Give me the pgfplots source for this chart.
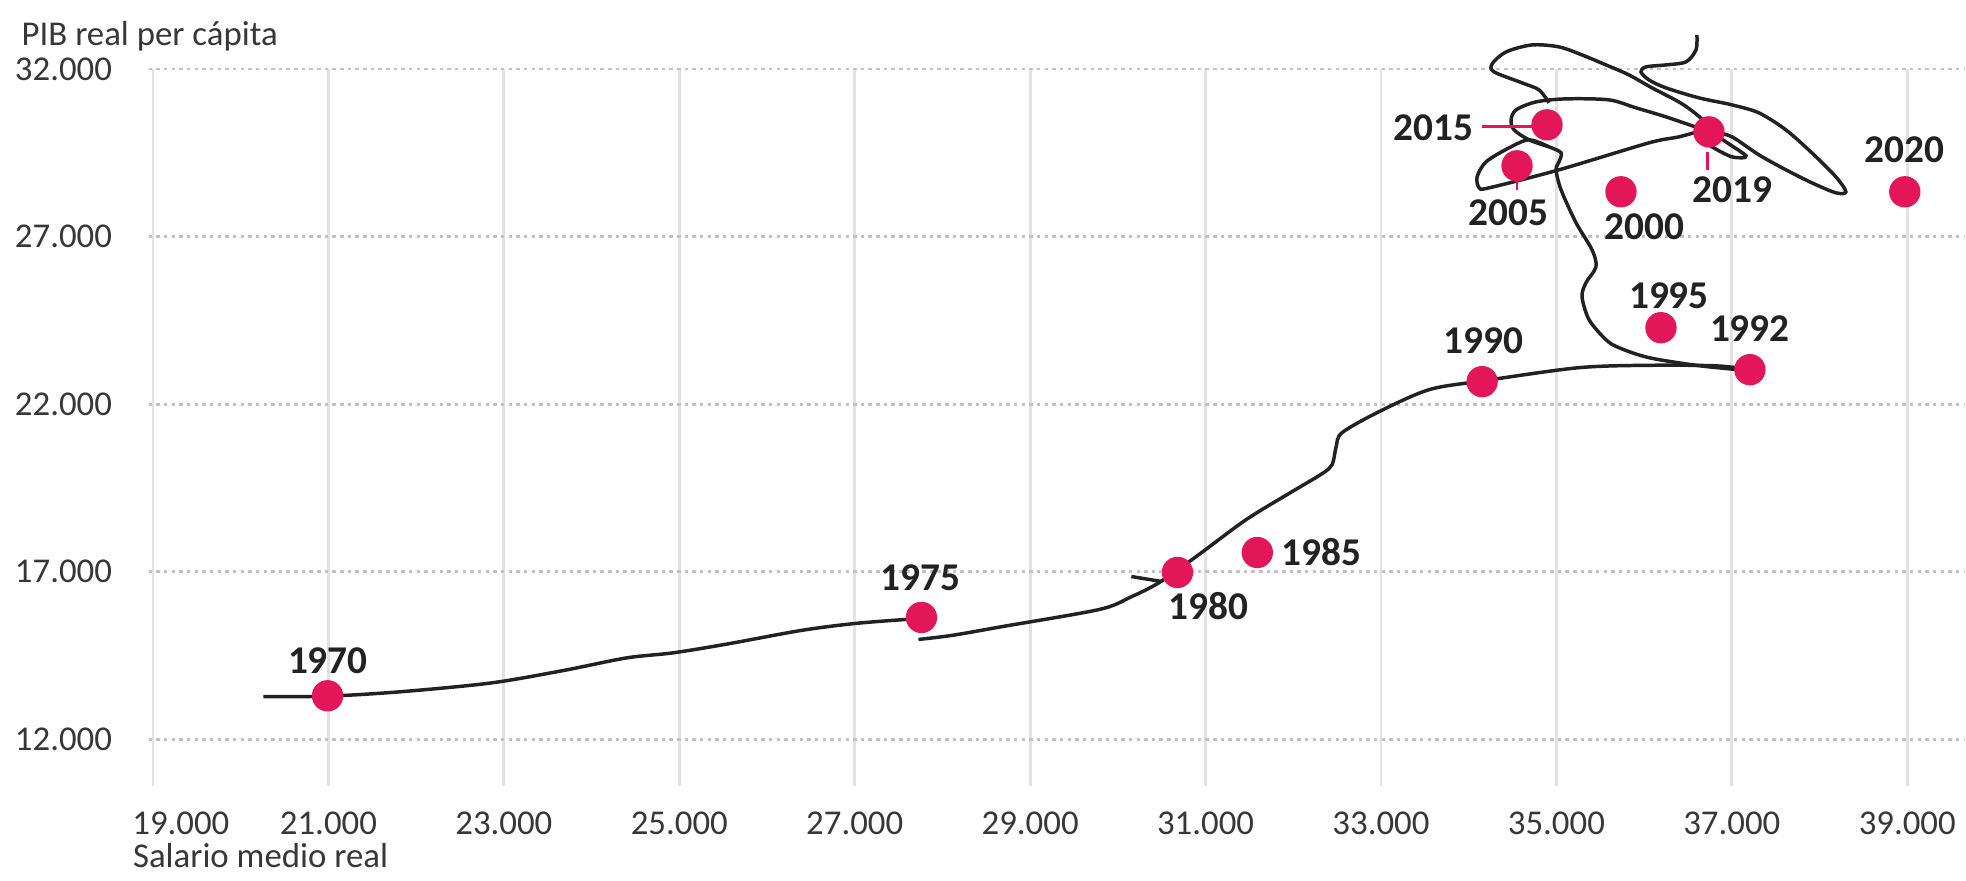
\documentclass[border=0pt]{standalone}
\usepackage{pgfplots}
\pgfplotsset{compat=1.18}
\usepackage{fontspec}
\setmainfont{Carlito}
\definecolor{dot}{RGB}{228,22,90}
\definecolor{ink}{RGB}{34,34,34}
\definecolor{txt}{RGB}{55,55,55}
\definecolor{vgrid}{RGB}{226,226,226}
\definecolor{hgrid}{RGB}{195,195,195}

\begin{document}
\begin{tikzpicture}
\useasboundingbox (-42.7pt,-27.1pt) rectangle (522.1pt,225.9pt);
\begin{axis}[
  at={(0,0)}, anchor=south west,
  scale only axis, width=521.6pt, height=206.1pt,
  xmin=18950, xmax=39650, ymin=10600, ymax=32000,
  scaled ticks=false,
  axis line style={draw=none},
  major tick length=0pt,
  xtick={19000,21000,23000,25000,27000,29000,31000,33000,35000,37000,39000},
  xticklabels={\hspace*{16pt}19.000,21.000,23.000,25.000,27.000,29.000,31.000,33.000,35.000,37.000,39.000},
  ytick={12000,17000,22000,27000,32000},
  yticklabels={12.000,17.000,22.000,27.000,32.000},
  xmajorgrids, ymajorgrids,
  x grid style={vgrid, line width=0.8pt},
  y grid style={hgrid, line width=0.8pt, dash pattern=on 1pt off 1.2pt},
  tick label style={font=\fontsize{10}{12}\selectfont, text=txt},
  xticklabel style={yshift=-3.7pt},
  yticklabel style={xshift=-7pt},
  clip=false,
]

% trazo a mano: 1970 -> 1975
\addplot[ink, line width=1pt, smooth] coordinates {
(20257,13273) (21000,13290) (21829,13422) (22857,13684) (23686,14058)
(24400,14431) (24929,14581) (25543,14843) (26400,15254) (27014,15460)
(27643,15590) (27800,15630)
};
% 1975 -> 1992
\addplot[ink, line width=1pt, smooth] coordinates {
(27727,14981) (28114,15104) (28686,15366) (29789,15875) (30150,16250)
(30473,16680) (30894,17455) (31464,18557) (31971,19366) (32329,19926)
(32444,20200) (32489,20733) (32557,21151) (32979,21777) (33549,22432)
(34157,22692) (35258,23088) (36114,23160) (36829,23141) (37214,23029)
};
% flecha en 1980
\addplot[ink, line width=1pt] coordinates {(30154,16858) (30496,16710)};
% vuelta desde 1992, subida y bucle de 2005
\addplot[ink, line width=1pt, smooth] coordinates {
(37206,22998) (36625,23147) (36055,23386) (35713,23684) (35565,23922)
(35372,24519) (35292,25204) (35337,25621) (35451,26098) (35406,26605)
(35224,27410) (35053,28393) (34996,28990) (35030,29228) (35053,29496)
(34916,29675) (34688,29884) (34460,29645) (34198,29228) (34096,28781)
(34119,28453) (34233,28453) (35030,28990) (36055,29794) (36397,29973)
(36682,30182)
};
% bucle de 2015
\addplot[ink, line width=1pt, smooth] coordinates {
(36682,30182) (36249,30569) (35907,30838) (35599,31076) (35110,31106)
(34768,31016) (34540,30778) (34483,30480) (34517,30182) (34688,29884)
(34916,29675)
};
% bucle superior
\addplot[ink, line width=1pt, smooth] coordinates {
(34916,30987) (34802,31374) (34609,31583) (34290,31911) (34267,32149)
(34426,32507) (34722,32715) (35030,32656) (35292,32417) (35565,32119)
(35827,31821) (36090,31434) (36414,30987) (36640,30550) (36853,29973)
(37161,29407) (37001,29377) (36773,29675) (36625,29943)
};
% bucle derecho y cola
\addplot[ink, line width=1pt, smooth] coordinates {
(36796,30122) (37001,29973) (37308,29437) (37616,28990) (37912,28602)
(38186,28304) (38300,28334) (38186,28781) (37912,29496) (37616,30182)
(37308,30689) (37001,30927) (36625,31136) (36249,31434) (36055,31672)
(35964,31911) (36021,32060) (36249,32119) (36477,32209) (36591,32566)
(36602,33013)
};

% guias de etiquetas
\addplot[dot, line width=0.8pt] coordinates {(34153,30271) (34745,30271)};
\addplot[dot, line width=0.8pt] coordinates {(34551,28751) (34551,28393)};
\addplot[dot, line width=0.8pt] coordinates {(36720,29526) (36720,28990)};

% puntos
\addplot[only marks, mark=*, mark size=4.3pt, color=dot] coordinates {
(20990,13300) (27761,15637) (30680,16980) (31590,17574) (34153,22671)
(37206,23028) (36192,24280) (35736,28334) (34551,29109) (34893,30331)
(36739,30122) (38972,28334)
};

\begin{scope}[every node/.style={font=\bfseries\fontsize{11.3}{13}\selectfont, text=ink}]
\node at (axis cs:20994,14355) {1970};
\node at (axis cs:27750,16829) {1975};
\node at (axis cs:31031,15964) {1980};
\node at (axis cs:32318,17574) {1985};
\node at (axis cs:34164,23893) {1990};
\node at (axis cs:37206,24250) {1992};
\node at (axis cs:36283,25234) {1995};
\node at (axis cs:36000,27280) {2000};
\node at (axis cs:34450,27700) {2005};
\node at (axis cs:33600,30250) {2015};
\node at (axis cs:37010,28400) {2019};
\node at (axis cs:38972,29600) {2020};
\end{scope}

\node[anchor=base west, xshift=-40pt, yshift=6.8pt, font=\fontsize{10}{12}\selectfont, text=txt] at (rel axis cs:0,1) {PIB real per cápita};
\node[anchor=base west, xshift=-8pt, yshift=-23.2pt, font=\fontsize{10}{12}\selectfont, text=txt] at (rel axis cs:0,0) {Salario medio real};
\end{axis}
\end{tikzpicture}
\end{document}
